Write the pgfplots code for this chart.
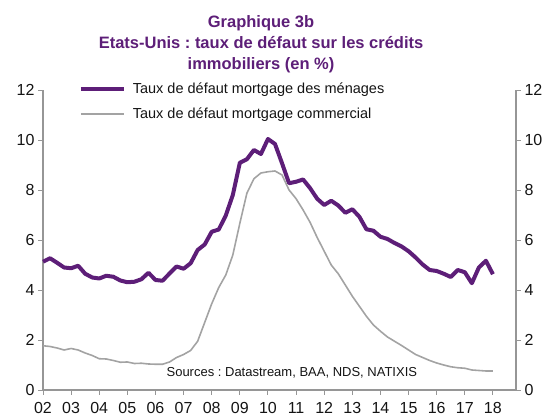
\documentclass[border=0pt]{standalone}
\usepackage{fontspec}
\setmainfont{Liberation Sans}
\usepackage{pgfplots}
\usepackage{pgfplotstable}
\pgfplotsset{compat=1.18}
\frenchspacing

\definecolor{violet}{RGB}{93,30,120}
\definecolor{gris}{RGB}{163,163,163}
\definecolor{axe}{RGB}{150,150,150}
\definecolor{texte}{RGB}{20,20,20}

% taux de defaut, trimestriel
\pgfplotstableread{
t       menages commercial
2002.00 5.13 1.77
2002.25 5.27 1.74
2002.50 5.09 1.68
2002.75 4.90 1.60
2003.00 4.87 1.66
2003.25 4.97 1.60
2003.50 4.65 1.48
2003.75 4.50 1.38
2004.00 4.46 1.25
2004.25 4.57 1.24
2004.50 4.53 1.18
2004.75 4.38 1.11
2005.00 4.31 1.12
2005.25 4.33 1.06
2005.50 4.43 1.07
2005.75 4.69 1.04
2006.00 4.40 1.03
2006.25 4.37 1.03
2006.50 4.66 1.12
2006.75 4.94 1.30
2007.00 4.85 1.42
2007.25 5.07 1.58
2007.50 5.60 1.95
2007.75 5.82 2.70
2008.00 6.33 3.45
2008.25 6.42 4.10
2008.50 6.98 4.60
2008.75 7.80 5.40
2009.00 9.09 6.67
2009.25 9.23 7.87
2009.50 9.60 8.45
2009.75 9.44 8.68
2010.00 10.04 8.73
2010.25 9.84 8.76
2010.50 9.07 8.60
2010.75 8.27 8.00
2011.00 8.33 7.65
2011.25 8.42 7.20
2011.50 8.07 6.70
2011.75 7.65 6.10
2012.00 7.40 5.55
2012.25 7.57 5.00
2012.50 7.38 4.65
2012.75 7.09 4.20
2013.00 7.23 3.75
2013.25 6.93 3.35
2013.50 6.43 2.95
2013.75 6.37 2.60
2014.00 6.13 2.35
2014.25 6.04 2.12
2014.50 5.88 1.95
2014.75 5.74 1.78
2015.00 5.55 1.60
2015.25 5.30 1.42
2015.50 5.02 1.30
2015.75 4.80 1.18
2016.00 4.76 1.08
2016.25 4.65 1.00
2016.50 4.52 0.93
2016.75 4.80 0.89
2017.00 4.71 0.87
2017.25 4.27 0.80
2017.50 4.90 0.78
2017.75 5.17 0.76
2018.00 4.63 0.76
}\defaut

\pgfplotsset{
  cadre/.style={
    width=473pt, height=300pt, scale only axis,
    xmin=2002, xmax=2018.82, ymin=0, ymax=12,
    at={(0,0)}, anchor=south west,
    axis line style={axe, line width=1.1pt},
    tick style={axe, line width=0.9pt},
    tick align=outside,
    major tick length=5pt, minor tick length=4pt,
    ytick={0,2,...,12},
    /pgf/number format/assume math mode=true,
    tick label style={font=\fontsize{16}{16}\selectfont, text=texte},
  },
}

\begin{document}
\begin{tikzpicture}[x=1pt,y=1pt]
\useasboundingbox (-43,-29) rectangle (507,390);
\begin{axis}[cadre,
    axis x line*=bottom, axis y line*=left,
    xtick={2002,...,2018},
    xticklabels={02,03,04,05,06,07,08,09,10,11,12,13,14,15,16,17,18},
    xticklabel style={yshift=-4pt},
    minor x tick num=3,
    clip=false,
    legend cell align=left,
    legend style={at={(rel axis cs:0.069,1.038)}, anchor=north west,
      draw=none, fill=none, font=\fontsize{14.5}{16}\selectfont,
      text=texte, row sep=9pt},
    legend image code/.code={\draw[#1] (0pt,0pt) -- (43pt,0pt);
      \path (48pt,0pt);},
]
\addplot[violet, line width=4pt, line join=round] table[x=t, y=menages] {\defaut};
\addlegendentry{Taux de défaut mortgage des ménages}
\addplot[gris, line width=1.6pt, line join=round] table[x=t, y=commercial] {\defaut};
\addlegendentry{Taux de défaut mortgage commercial}
\node[anchor=west, font=\fontsize{13}{13}\selectfont, text=texte]
  at (axis cs:2006.27,0.68) {Sources : Datastream, BAA, NDS, NATIXIS};
\node[align=center, text=violet, font=\bfseries\fontsize{16.5}{21}\selectfont]
  at (rel axis cs:0.461,1.153) {Graphique 3b\\Etats-Unis : taux de défaut sur les crédits\\immobiliers (en \%)};
\end{axis}
\begin{axis}[cadre,
    axis x line=none, axis y line*=right,
    xtick=\empty,
]
\end{axis}
\end{tikzpicture}
\end{document}
